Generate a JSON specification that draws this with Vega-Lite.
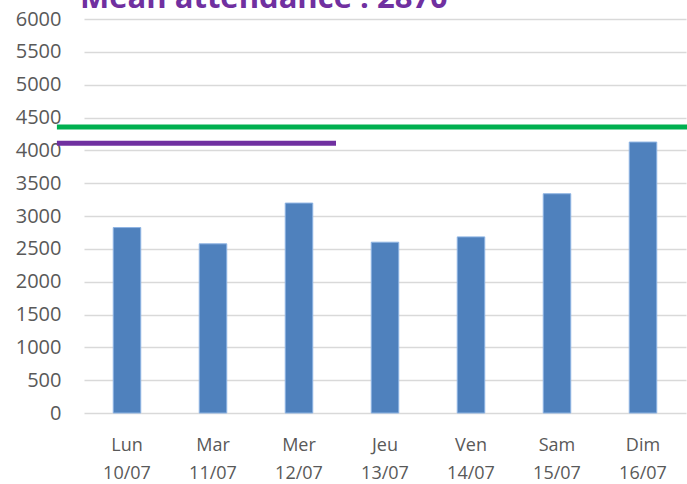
{
  "$schema": "https://vega.github.io/schema/vega-lite/v6.json",
  "autosize": {"type": "none"},
  "width": 602,
  "height": 394,
  "padding": {"left": 84, "top": 19, "right": 1, "bottom": 71},
  "background": "white",
  "config": {"view": {"stroke": null}, "font": "Open Sans"},
  "title": {
    "text": "Mean attendance : 2870",
    "anchor": "start",
    "frame": "group",
    "dx": -4,
    "dy": 30,
    "offset": 0,
    "baseline": "alphabetic",
    "color": "#7030A0",
    "font": "Open Sans",
    "fontSize": 31,
    "fontWeight": "bold"
  },
  "datasets": {
    "bars": [
      {"day": "Lun 10/07", "attendance": 2824},
      {"day": "Mar 11/07", "attendance": 2576},
      {"day": "Mer 12/07", "attendance": 3197},
      {"day": "Jeu 13/07", "attendance": 2601},
      {"day": "Ven 14/07", "attendance": 2682},
      {"day": "Sam 15/07", "attendance": 3339},
      {"day": "Dim 16/07", "attendance": 4126}
    ],
    "lines": [
      {"name": "green", "level": 4355, "start": -0.045, "end": 1.002},
      {"name": "purple", "level": 4107, "start": -0.045, "end": 0.4186}
    ]
  },
  "layer": [
    {
      "data": {"name": "bars"},
      "mark": {"type": "bar", "color": "#4F81BD", "stroke": "#8EB4E3", "strokeWidth": 1},
      "encoding": {
        "x": {
          "field": "day",
          "type": "nominal",
          "sort": null,
          "scale": {"paddingInner": 0.68, "paddingOuter": 0.34},
          "axis": {
            "title": null,
            "labelAngle": 0,
            "labelExpr": "split(datum.label, ' ')",
            "labelFontSize": 18,
            "labelLineHeight": 28,
            "labelColor": "#595959",
            "labelPadding": 23,
            "domain": false,
            "ticks": false
          }
        },
        "y": {
          "field": "attendance",
          "type": "quantitative",
          "scale": {"domain": [0, 6000], "nice": false},
          "axis": {
            "title": null,
            "values": [0, 500, 1000, 1500, 2000, 2500, 3000, 3500, 4000, 4500, 5000, 5500, 6000],
            "format": "d",
            "labelOverlap": false,
            "labelFlush": false,
            "labelFontSize": 20,
            "labelColor": "#595959",
            "labelPadding": 23,
            "domain": false,
            "ticks": false,
            "gridColor": "#D9D9D9",
            "gridWidth": 1.5
          }
        }
      }
    },
    {
      "data": {"name": "lines"},
      "mark": {"type": "rule", "strokeWidth": 5, "clip": false},
      "encoding": {
        "x": {"field": "start", "type": "quantitative", "scale": {"domain": [0, 1], "nice": false, "zero": false}, "axis": null},
        "x2": {"field": "end"},
        "y": {
          "field": "level",
          "type": "quantitative",
          "axis": {
            "title": null,
            "values": [0, 500, 1000, 1500, 2000, 2500, 3000, 3500, 4000, 4500, 5000, 5500, 6000],
            "format": "d",
            "labelOverlap": false,
            "labelFlush": false,
            "labelFontSize": 20,
            "labelColor": "#595959",
            "labelPadding": 23,
            "domain": false,
            "ticks": false,
            "gridColor": "#D9D9D9",
            "gridWidth": 1.5
          }
        },
        "color": {
          "field": "name",
          "type": "nominal",
          "scale": {"domain": ["green", "purple"], "range": ["#00B050", "#7030A0"]},
          "legend": null
        }
      }
    }
  ],
  "resolve": {"scale": {"x": "independent"}}
}
